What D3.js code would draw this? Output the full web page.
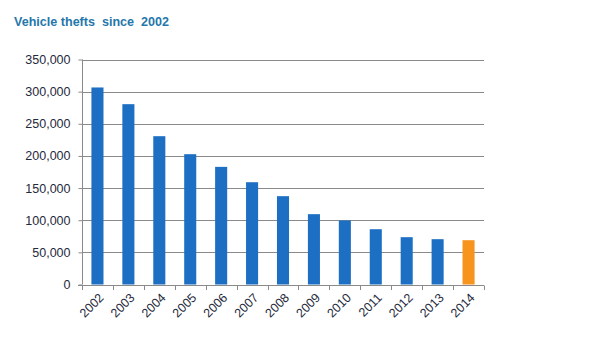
<!DOCTYPE html>
<html>
<head>
<meta charset="utf-8">
<script src="https://cdn.jsdelivr.net/npm/d3@7"></script>
<style>
  body { margin: 0; background: #fff; }
  svg { display: block; font-family: "Liberation Sans", Arial, sans-serif; }
</style>
</head>
<body>
<div id="chart"></div>
<script>
// Thefts per year
const years = ["2002", "2003", "2004", "2005", "2006", "2007", "2008", "2009", "2010", "2011", "2012", "2013", "2014"];
const thefts = [306500, 280500, 230700, 202700, 183000, 159100, 137400, 109400, 99600, 86000, 73600, 70500, 68900];
const yTicks = [0, 50000, 100000, 150000, 200000, 250000, 300000, 350000];
const highlightYear = "2014";

const wSvg = 604, hSvg = 343;
const plotLeft = 82, plotRight = 484, plotTop = 59.5, plotBottom = 284.5;

const svg = d3.select("#chart").append("svg")
    .attr("width", wSvg)
    .attr("height", hSvg);

// Titel
svg.append("text")
    .attr("x", 14)
    .attr("y", 26)
    .attr("fill", "#2577ab")
    .attr("font-size", "13.5px")
    .attr("font-weight", "bold")
    .attr("xml:space", "preserve")
    .attr("textLength", 155)
    .attr("lengthAdjust", "spacingAndGlyphs")
    .text("Vehicle thefts  since  2002");

// Skalor
const x = d3.scaleBand()
    .domain(years)
    .range([plotLeft, plotRight])
    .paddingInner(0.61)
    .paddingOuter(0.305);

const y = d3.scaleLinear()
    .domain([0, 350000])
    .range([plotBottom, plotTop]);

// Stödlinjer
svg.append("g")
    .selectAll("line")
    .data(yTicks.filter(d => d > 0))
    .join("line")
    .attr("x1", plotLeft)
    .attr("x2", plotRight)
    .attr("y1", d => Math.round(y(d)) + 0.5)
    .attr("y2", d => Math.round(y(d)) + 0.5)
    .attr("stroke", "#8a8a8a")
    .attr("stroke-width", 1);

// Staplar
svg.append("g")
    .selectAll("rect")
    .data(years.map((yr, i) => ({ year: yr, value: thefts[i] })))
    .join("rect")
    .attr("x", d => x(d.year))
    .attr("y", d => y(d.value))
    .attr("width", x.bandwidth())
    .attr("height", d => y(0) - y(d.value))
    .attr("fill", d => d.year === highlightYear ? "#f7941d" : "#1c6fc2");

// Y-axel
const yAxis = svg.append("g")
    .attr("transform", `translate(${plotLeft + 0.5}, 0)`)
    .call(d3.axisLeft(y)
        .tickValues(yTicks)
        .tickSize(4)
        .tickPadding(8)
        .tickFormat(d3.format(",")));
yAxis.select(".domain").attr("stroke", "#8a8a8a").attr("d", `M0,${plotTop}V${plotBottom}`);
yAxis.selectAll(".tick line").attr("stroke", "#8a8a8a");
yAxis.selectAll(".tick text")
    .attr("fill", "#1f2a3c")
    .attr("font-size", "12.5px")
    .attr("font-family", "\"Liberation Sans\", Arial, sans-serif");

// X-axel med streck mellan kategorierna
const step = x.step();
const xAxis = svg.append("g");
xAxis.append("line")
    .attr("x1", plotLeft - 4)
    .attr("x2", plotRight)
    .attr("y1", Math.round(y(0)) + 0.5)
    .attr("y2", Math.round(y(0)) + 0.5)
    .attr("stroke", "#8a8a8a");
xAxis.selectAll("line.tick")
    .data(d3.range(years.length + 1))
    .join("line")
    .attr("class", "tick")
    .attr("x1", i => Math.round(plotLeft + i * step) + 0.5)
    .attr("x2", i => Math.round(plotLeft + i * step) + 0.5)
    .attr("y1", Math.round(y(0)) + 0.5)
    .attr("y2", Math.round(y(0)) + 5)
    .attr("stroke", "#8a8a8a");
xAxis.selectAll("text")
    .data(years)
    .join("text")
    .attr("transform", d => `translate(${x(d) + x.bandwidth() / 2 + 7}, ${plotBottom + 14}) rotate(-45)`)
    .attr("text-anchor", "end")
    .attr("fill", "#1f2a3c")
    .attr("font-size", "12.5px")
    .text(d => d);
</script>
</body>
</html>
